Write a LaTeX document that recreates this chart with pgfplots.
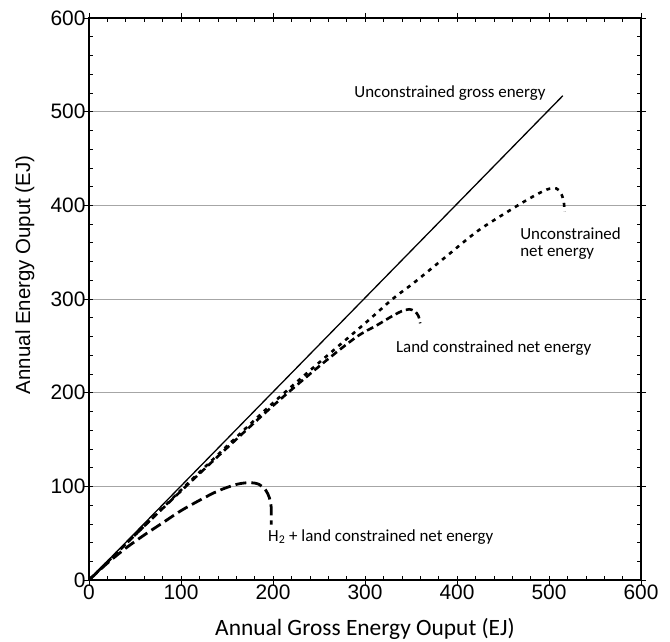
\documentclass[border=0pt]{standalone}
\usepackage{pgfplots}
\pgfplotsset{compat=1.18}
\usepackage{fontspec}
\setmainfont{Carlito}
\newfontfamily\arial{Liberation Sans}

\begin{document}
\begin{tikzpicture}
\begin{axis}[
    scale only axis,
    width=552bp, height=562bp,
    xmin=0, xmax=600, ymin=0, ymax=600,
    xtick={0,100,...,600}, ytick={0,100,...,600},
    minor x tick num=4, minor y tick num=4,
    tick align=inside,
    major tick length=4bp, minor tick length=4bp,
    tick style={black, line width=0.6bp},
    extra x ticks={0,100,...,600}, extra y ticks={0,100,...,600},
    extra x tick labels={}, extra y tick labels={},
    extra tick style={tick align=outside, major tick length=5bp, grid=none},
    ymajorgrids, xmajorgrids=false,
    grid style={gray!70, line width=0.8bp},
    axis line style={line width=1.5bp},
    /pgf/number format/assume math mode=true,
    ticklabel style={font=\arial\fontsize{21}{21}\selectfont},
    xticklabel style={yshift=-1bp},
    xlabel={Annual Gross Energy Ouput (EJ)},
    ylabel={Annual Energy Ouput (EJ)},
    xlabel style={font=\fontsize{23.5}{23.5}\selectfont,
        at={(axis description cs:0.5,-0.099)}, anchor=base},
    ylabel style={font=\arial\fontsize{20.5}{20.5}\selectfont,
        at={(axis description cs:-0.116,0.543)}, anchor=center},
    clip=false,
]

% Unconstrained gross energy
\addplot[black, line width=1.3bp] coordinates {(0,0) (515,517)};

% Unconstrained net energy
\addplot[black, line width=2.6bp, dash pattern=on 4bp off 5bp, smooth] coordinates {
    (0,0) (50,48) (100,96) (150,143) (200,189) (250,232) (300,274)
    (330,300) (354,318) (389,346) (423,373) (458,395) (480,408)
    (498,417) (508,418) (513,413) (516,404) (517,393)
};

% Land constrained net energy
\addplot[black, line width=2.6bp, dash pattern=on 7bp off 4bp, smooth] coordinates {
    (0,0) (50,48) (100,95) (150,141) (200,186) (250,228) (290,259)
    (313,272) (330,282) (340,287) (348,289) (354,287) (358,282) (360,274)
};

% H2 + land constrained net energy
\addplot[black, line width=2.8bp, dash pattern=on 11bp off 5bp, smooth] coordinates {
    (0,0) (20,18) (40,34) (60,48) (80,61) (100,74) (120,85) (140,95)
    (160,102) (175,104) (185,102) (192,96) (196,88) (198,78) (198,68) (198,59)
};

\node[font=\fontsize{17}{17}\selectfont, anchor=east] at (axis cs:500,520) {Unconstrained gross energy};
\node[font=\fontsize{17}{17}\selectfont, anchor=west, align=left] at (axis cs:465,359) {Unconstrained\\net energy};
\node[font=\fontsize{17}{17}\selectfont, anchor=west] at (axis cs:330,248) {Land constrained net energy};
\node[font=\fontsize{17}{17}\selectfont, anchor=west] at (axis cs:191,46) {H\textsubscript{2} + land constrained net energy};
\end{axis}
\pgfresetboundingbox
\path (-89bp,-62bp) rectangle (581bp,580bp);
\end{tikzpicture}
\end{document}
